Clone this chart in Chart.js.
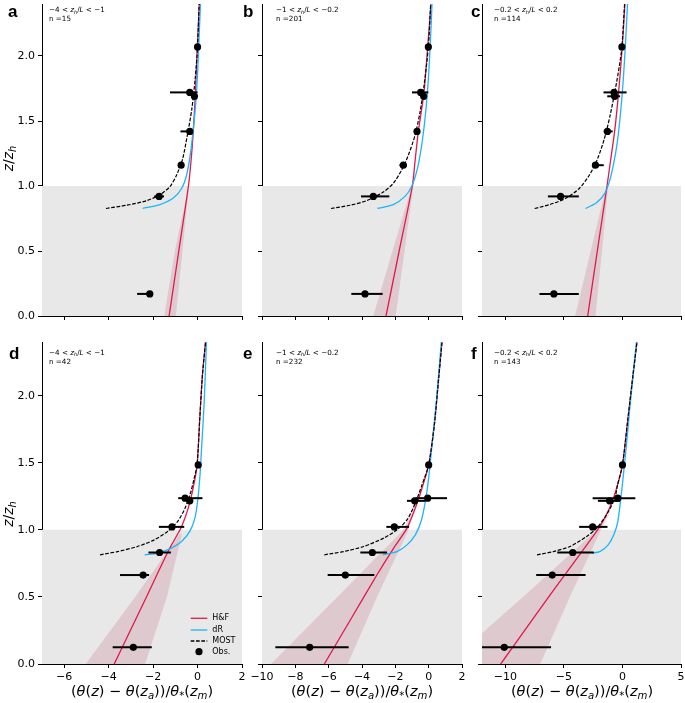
<!DOCTYPE html>
<html><head><meta charset="utf-8">
<script src="https://cdn.jsdelivr.net/npm/chart.js@4.4.1/dist/chart.umd.min.js"></script>
<style>
html,body{margin:0;padding:0;background:#fff;width:685px;height:703px;overflow:hidden;position:relative}
canvas{position:absolute}
</style></head><body>
<canvas id="pa"></canvas><canvas id="pb"></canvas><canvas id="pc"></canvas>
<canvas id="pd"></canvas><canvas id="pe"></canvas><canvas id="pf"></canvas>
<script>
// ---------- labels / ticks ----------
const panelLetters = ['a','b','c','d','e','f'];
const zhLLower = ['−4','−1','−0.2','−4','−1','−0.2'];
const zhLUpper = ['−1','−0.2','0.2','−1','−0.2','0.2'];
const nObs = [15,201,114,42,232,143];
const yTickValues = [0,0.5,1.0,1.5,2.0];
const xTicksAD = [-6,-4,-2,0,2];
const xTicksBE = [-10,-8,-6,-4,-2,0,2];
const xTicksCF = [-10,-5,0,5];
const canopyTop = 1.0;
const legendLabels = ['H&F','dR','MOST','Obs.'];

// ---------- panel a ----------
const obsZ_a = [2.07,1.72,1.69,1.42,1.16,0.92,0.17];
const obsX_a = [0.0,-0.35,-0.14,-0.35,-0.74,-1.73,-2.15];
const obsLo_a = [-0.08,-1.24,-0.22,-0.77,-0.82,-1.95,-2.72];
const obsHi_a = [0.05,0.0,-0.06,-0.26,-0.66,-1.51,-2.0];
const hfZ_a = [0,0.5,1.0,1.2,1.4,1.7,2.07,2.4];
const hfX_a = [-1.28,-0.845,-0.41,-0.29,-0.2,-0.1,-0.01,0.08];
const bandZ_a = [0,0.5,0.95];
const bandLo_a = [-1.5,-1.02,-0.46];
const bandHi_a = [-0.98,-0.68,-0.42];
const drZ_a = [0.827,0.857,0.907,0.983,1.085,1.262,1.44,1.64,1.9,2.15,2.4];
const drX_a = [-2.47,-1.69,-1.09,-0.71,-0.49,-0.31,-0.19,-0.08,0.01,0.07,0.13];
const mostZ_a = [0.827,0.852,0.887,0.933,0.996,1.085,1.21,1.39,1.59,1.82,2.07,2.4];
const mostX_a = [-4.12,-3.19,-2.29,-1.69,-1.24,-0.94,-0.67,-0.46,-0.26,-0.11,0.0,0.07];

// ---------- panel b ----------
const obsZ_b = [2.07,1.72,1.69,1.42,1.16,0.92,0.17];
const obsX_b = [-0.02,-0.48,-0.3,-0.7,-1.52,-3.32,-3.82];
const obsLo_b = [-0.1,-1.0,-0.4,-0.8,-1.75,-4.06,-4.64];
const obsHi_b = [0.05,-0.02,-0.2,-0.6,-1.3,-2.36,-2.76];
const hfZ_b = [0,0.5,1.0,1.2,1.42,1.72,2.07,2.4];
const hfX_b = [-2.56,-1.77,-0.98,-0.81,-0.62,-0.28,-0.06,0.14];
const bandZ_b = [0,0.5,1.02];
const bandLo_b = [-3.32,-2.17,-0.96];
const bandHi_b = [-1.98,-1.45,-0.9];
const drZ_b = [0.827,0.857,0.92,0.996,1.11,1.313,1.567,1.82,2.1,2.4];
const drX_b = [-3.08,-2.12,-1.42,-1.02,-0.72,-0.42,-0.18,-0.02,0.1,0.2];
const mostZ_b = [0.827,0.852,0.887,0.953,1.021,1.123,1.237,1.389,1.567,1.77,2.066,2.4];
const mostX_b = [-5.86,-4.72,-3.72,-2.72,-2.12,-1.62,-1.22,-0.82,-0.52,-0.28,-0.02,0.12];

// ---------- panel c ----------
const obsZ_c = [2.07,1.72,1.69,1.42,1.16,0.92,0.17];
const obsX_c = [-0.05,-0.72,-0.67,-1.29,-2.31,-5.29,-5.86];
const obsLo_c = [-0.15,-1.62,-1.3,-1.6,-2.6,-6.37,-7.09];
const obsHi_c = [0.05,0.35,-0.2,-0.84,-1.6,-3.73,-3.73];
const hfZ_c = [0,0.5,1.0,1.2,1.42,1.72,2.07,2.4];
const hfX_c = [-2.97,-2.15,-1.32,-1.01,-0.67,-0.33,-0.02,0.21];
const bandZ_c = [0,0.5,0.99];
const bandLo_c = [-4.04,-2.71,-1.4];
const bandHi_c = [-2.31,-1.75,-1.23];
const drZ_c = [0.827,0.869,0.938,1.034,1.161,1.338,1.567,1.82,2.1,2.4];
const drX_c = [-3.16,-2.25,-1.55,-1.12,-0.78,-0.44,-0.16,0.07,0.26,0.43];
const mostZ_c = [0.827,0.857,0.907,0.983,1.085,1.211,1.363,1.541,1.744,1.922,2.066,2.4];
const mostX_c = [-7.5,-6.22,-4.8,-3.67,-2.82,-2.12,-1.55,-1.06,-0.61,-0.27,-0.05,0.18];

// ---------- panel d ----------
const obsZ_d = [1.484,1.236,1.216,1.022,0.831,0.663,0.124];
const obsX_d = [0.03,-0.56,-0.35,-1.15,-1.71,-2.45,-2.89];
const obsLo_d = [-0.05,-0.87,-0.5,-1.74,-2.21,-3.49,-3.82];
const obsHi_d = [0.08,0.22,-0.2,-0.6,-1.2,-2.18,-2.06];
const hfZ_d = [0,0.5,0.864,1.013,1.162,1.31,1.484,1.832,2.154,2.4];
const hfX_d = [-3.75,-2.3,-1.25,-0.75,-0.42,-0.2,-0.02,0.1,0.22,0.36];
const bandZ_d = [0,0.5,0.97];
const bandLo_d = [-5.03,-2.81,-0.8];
const bandHi_d = [-2.36,-1.38,-0.7];
const drZ_d = [0.814,0.827,0.864,0.913,0.988,1.087,1.211,1.385,1.633,1.955,2.4];
const drX_d = [-2.38,-1.78,-1.18,-0.72,-0.35,-0.12,0.0,0.1,0.19,0.3,0.4];
const mostZ_d = [0.814,0.838,0.876,0.925,0.988,1.062,1.162,1.285,1.385,1.484,1.832,2.154,2.4];
const mostX_d = [-4.39,-3.6,-2.7,-1.95,-1.35,-0.9,-0.56,-0.3,-0.15,-0.02,0.1,0.22,0.36];

// ---------- panel e ----------
const obsZ_e = [1.484,1.236,1.216,1.022,0.831,0.663,0.124];
const obsX_e = [0.0,-0.06,-0.84,-2.06,-3.38,-5.0,-7.14];
const obsLo_e = [-0.1,-0.8,-1.3,-2.54,-4.1,-6.06,-9.2];
const obsHi_e = [0.1,1.1,-0.2,-1.18,-2.5,-3.26,-4.8];
const hfZ_e = [0,0.343,0.665,0.864,1.013,1.162,1.31,1.484,1.782,2.13,2.4];
const hfX_e = [-6.26,-4.63,-3.1,-2.1,-1.3,-0.8,-0.4,0.0,0.34,0.6,0.8];
const bandZ_e = [0,0.5,1.0,1.2];
const bandLo_e = [-9.46,-5.48,-1.5,-0.85];
const bandHi_e = [-4.86,-3.1,-1.2,-0.75];
const drZ_e = [0.814,0.838,0.888,0.963,1.062,1.211,1.385,1.633,1.955,2.4];
const drX_e = [-2.74,-1.9,-1.3,-0.8,-0.46,-0.2,0.0,0.2,0.46,0.76];
const mostZ_e = [0.814,0.838,0.876,0.938,1.0,1.074,1.199,1.335,1.484,1.782,2.13,2.4];
const mostX_e = [-6.26,-5.1,-3.9,-2.7,-1.9,-1.3,-0.8,-0.4,0.0,0.34,0.6,0.8];

// ---------- panel f ----------
const obsZ_f = [1.484,1.236,1.216,1.022,0.831,0.663,0.124];
const obsX_f = [0.0,-0.4,-1.1,-2.55,-4.25,-6.0,-10.1];
const obsLo_f = [-0.15,-2.55,-2.1,-3.7,-5.57,-7.37,-12.0];
const obsHi_f = [0.15,1.1,-0.23,-1.28,-2.45,-3.15,-6.1];
const hfZ_f = [0,0.5,0.99,1.1,1.2,1.335,1.484,1.832,2.154,2.4];
const hfX_f = [-10.4,-6.3,-2.2,-1.45,-0.92,-0.42,0.0,0.47,0.9,1.24];
const bandZ_f = [0,0.5,0.99,1.12];
const bandLo_f = [-14.97,-8.5,-2.3,-1.2];
const bandHi_f = [-7.03,-4.5,-1.9,-1.1];
const drZ_f = [0.827,0.838,0.888,0.963,1.062,1.211,1.385,1.633,1.955,2.4];
const drX_f = [-2.64,-1.93,-1.22,-0.74,-0.4,-0.17,0.05,0.34,0.68,1.19];
const mostZ_f = [0.814,0.838,0.876,0.95,1.013,1.112,1.236,1.335,1.484,1.832,2.154,2.4];
const mostX_f = [-7.3,-5.9,-4.48,-3.06,-2.2,-1.36,-0.65,-0.42,0.0,0.47,0.9,1.24];

// ---------- styles ----------
const C_GRAY = '#e8e8e8';
const C_BAND = 'rgba(200,130,150,0.30)';
const C_HF = '#e0194a';
const C_DR = '#1db4fb';
const C_TXT = '#000';
const FONT = "'DejaVu Sans'";

const panels = [
  {id:'pa', k:0, left:0,   top:0,   w:250, h:330, yW:42, xH:14, padT:0, padR:8, xMin:-7,  xMax:2, xTicks:xTicksAD, xLab:false, yLab:true,
   obs:[obsZ_a,obsX_a,obsLo_a,obsHi_a], hf:[hfZ_a,hfX_a], band:[bandZ_a,bandLo_a,bandHi_a], dr:[drZ_a,drX_a], most:[mostZ_a,mostX_a],
   letterPos:[8,17.3], annotPos:[49,12.3,21], yTitle:[13,158.5], xTitle:null, legend:false},
  {id:'pb', k:1, left:240, top:0,   w:230, h:330, yW:22, xH:14, padT:0, padR:8, xMin:-10, xMax:2, xTicks:xTicksBE, xLab:false, yLab:false,
   obs:[obsZ_b,obsX_b,obsLo_b,obsHi_b], hf:[hfZ_b,hfX_b], band:[bandZ_b,bandLo_b,bandHi_b], dr:[drZ_b,drX_b], most:[mostZ_b,mostX_b],
   letterPos:[243,17.3], annotPos:[276,12.3,21], yTitle:null, xTitle:null, legend:false},
  {id:'pc', k:2, left:462, top:0,   w:223, h:330, yW:20, xH:14, padT:0, padR:3, xMin:-12, xMax:5, xTicks:xTicksCF, xLab:false, yLab:false,
   obs:[obsZ_c,obsX_c,obsLo_c,obsHi_c], hf:[hfZ_c,hfX_c], band:[bandZ_c,bandLo_c,bandHi_c], dr:[drZ_c,drX_c], most:[mostZ_c,mostX_c],
   letterPos:[471,17.3], annotPos:[494,12.3,21], yTitle:null, xTitle:null, legend:false},
  {id:'pd', k:3, left:0,   top:335, w:250, h:368, yW:42, xH:39, padT:7, padR:8, xMin:-7,  xMax:2, xTicks:xTicksAD, xLab:true, yLab:true,
   obs:[obsZ_d,obsX_d,obsLo_d,obsHi_d], hf:[hfZ_d,hfX_d], band:[bandZ_d,bandLo_d,bandHi_d], dr:[drZ_d,drX_d], most:[mostZ_d,mostX_d],
   letterPos:[9,359], annotPos:[49,355,363.5], yTitle:[13,514], xTitle:[142,696], legend:true},
  {id:'pe', k:4, left:240, top:335, w:230, h:368, yW:22, xH:39, padT:7, padR:8, xMin:-10, xMax:2, xTicks:xTicksBE, xLab:true, yLab:false,
   obs:[obsZ_e,obsX_e,obsLo_e,obsHi_e], hf:[hfZ_e,hfX_e], band:[bandZ_e,bandLo_e,bandHi_e], dr:[drZ_e,drX_e], most:[mostZ_e,mostX_e],
   letterPos:[243,359], annotPos:[276,355,363.5], yTitle:null, xTitle:[362,696], legend:false},
  {id:'pf', k:5, left:462, top:335, w:223, h:368, yW:20, xH:39, padT:7, padR:3, xMin:-12, xMax:5, xTicks:xTicksCF, xLab:true, yLab:false,
   obs:[obsZ_f,obsX_f,obsLo_f,obsHi_f], hf:[hfZ_f,hfX_f], band:[bandZ_f,bandLo_f,bandHi_f], dr:[drZ_f,drX_f], most:[mostZ_f,mostX_f],
   letterPos:[471,359], annotPos:[494,355,363.5], yTitle:null, xTitle:[582,696], legend:false}
];

function pts(zs, xs){ return zs.map((z,i)=>({x:xs[i], y:z})); }
function fmtX(v){ return (v<0?'−':'') + Math.abs(v).toString(); }

// rich text (italic / subscript segments)
function segFont(s, size){
  const sz = s.sub ? size*0.7 : size;
  return (s.it ? 'italic ' : '') + (s.b ? 'bold ' : '') + sz + 'px ' + (s.fam || FONT);
}
function richWidth(ctx, segs, size){
  let w = 0;
  for (const s of segs){ ctx.font = segFont(s,size); w += ctx.measureText(s.t).width; }
  return w;
}
function drawRich(ctx, segs, x, y, size, align){
  const w = richWidth(ctx, segs, size);
  let cx = align === 'center' ? x - w/2 : x;
  ctx.textAlign = 'left'; ctx.textBaseline = 'alphabetic';
  for (const s of segs){
    ctx.font = segFont(s,size);
    ctx.fillText(s.t, cx, y + (s.sub ? size*0.2 : 0));
    cx += ctx.measureText(s.t).width;
  }
}
const xTitleSegs = [{t:'('},{t:'θ',it:1},{t:'('},{t:'z',it:1},{t:') − '},{t:'θ',it:1},{t:'('},{t:'z',it:1},{t:'a',it:1,sub:1},
  {t:'))/'},{t:'θ',it:1},{t:'*',sub:1},{t:'('},{t:'z',it:1},{t:'m',it:1,sub:1},{t:')'}];
const yTitleSegs = [{t:'z',it:1},{t:'/'},{t:'z',it:1},{t:'h',it:1,sub:1}];

function decor(p){
  return {
    id:'decor'+p.id,
    afterDraw(chart){
      const ctx = chart.ctx;
      ctx.save();
      ctx.translate(-p.left, -p.top);
      ctx.fillStyle = C_TXT;
      // panel letter
      ctx.font = "bold 17px 'Liberation Sans'";
      ctx.textAlign = 'left'; ctx.textBaseline = 'alphabetic';
      ctx.fillText(panelLetters[p.k], p.letterPos[0], p.letterPos[1]);
      // annotation
      const a = [{t:zhLLower[p.k]+' < '},{t:'z',it:1},{t:'h',it:1,sub:1},{t:'/'},{t:'L',it:1},{t:' < '+zhLUpper[p.k]}];
      drawRich(ctx, a, p.annotPos[0], p.annotPos[1], 7.2, 'left');
      ctx.font = '7.2px ' + FONT;
      ctx.fillText('n =' + nObs[p.k], p.annotPos[0], p.annotPos[2]);
      // y title
      if (p.yTitle){
        ctx.save();
        ctx.translate(p.yTitle[0], p.yTitle[1]);
        ctx.rotate(-Math.PI/2);
        drawRich(ctx, yTitleSegs, 0, 0, 14, 'center');
        ctx.restore();
      }
      // x title
      if (p.xTitle){ drawRich(ctx, xTitleSegs, p.xTitle[0], p.xTitle[1], 14.5, 'center'); }
      // legend
      if (p.legend){
        const lx0 = 190.7, lx1 = 207.3, tx = 212.3, rows = [618.3, 630, 641, 651.7];
        ctx.lineWidth = 1.3;
        const styles = [[C_HF,[]],[C_DR,[]],['#000',[3.7,1.6]]];
        for (let i=0;i<3;i++){
          ctx.strokeStyle = styles[i][0]; ctx.setLineDash(styles[i][1]);
          ctx.beginPath(); ctx.moveTo(lx0, rows[i]); ctx.lineTo(lx1, rows[i]); ctx.stroke();
        }
        ctx.setLineDash([]);
        ctx.fillStyle = '#000';
        ctx.beginPath(); ctx.arc((lx0+lx1)/2, rows[3], 3.6, 0, Math.PI*2); ctx.fill();
        ctx.font = '8px ' + FONT; ctx.textBaseline = 'middle';
        for (let i=0;i<4;i++) ctx.fillText(legendLabels[i], tx, rows[i]);
      }
      ctx.restore();
    }
  };
}

function axisCommon(){
  return {
    grid:{display:true, drawOnChartArea:false, drawTicks:true, tickLength:4, tickWidth:1, tickColor:'#000', color:'#000'},
    border:{display:true, color:'#000', width:1}
  };
}

function buildChart(p){
  const cv = document.getElementById(p.id);
  cv.width = p.w; cv.height = p.h;
  cv.style.left = p.left+'px'; cv.style.top = p.top+'px';
  cv.style.width = p.w+'px'; cv.style.height = p.h+'px';
  const ds = [];
  // canopy shading
  ds.push({data:[{x:p.xMin,y:0},{x:p.xMax,y:0},{x:p.xMax,y:canopyTop},{x:p.xMin,y:canopyTop}],
    showLine:true, fill:'shape', backgroundColor:C_GRAY, borderColor:'rgba(0,0,0,0)', borderWidth:0, pointRadius:0, tension:0, order:100});
  // H&F uncertainty band
  const [bz, blo, bhi] = p.band;
  const bandPts = pts(bz, blo).concat(pts(bz, bhi).reverse());
  ds.push({data:bandPts, showLine:true, fill:'shape', backgroundColor:C_BAND, borderColor:'rgba(0,0,0,0)', borderWidth:0, pointRadius:0, tension:0, order:90});
  // model curves
  ds.push({data:pts(p.hf[0],p.hf[1]), showLine:true, borderColor:C_HF, borderWidth:1.3, pointRadius:0, tension:0.25, fill:false, order:50});
  ds.push({data:pts(p.dr[0],p.dr[1]), showLine:true, borderColor:C_DR, borderWidth:1.3, pointRadius:0, tension:0.25, fill:false, order:45});
  ds.push({data:pts(p.most[0],p.most[1]), showLine:true, borderColor:'#000', borderWidth:1.2, borderDash:[3.7,1.6], pointRadius:0, tension:0.25, fill:false, order:40});
  // error bars
  const [oz, ox, olo, ohi] = p.obs;
  oz.forEach((z,i)=>{
    ds.push({data:[{x:olo[i],y:z},{x:ohi[i],y:z}], showLine:true, borderColor:'#000', borderWidth:2, pointRadius:0, tension:0, fill:false, order:20});
  });
  // observations
  ds.push({data:pts(oz, ox), showLine:false, pointRadius:3.6, pointBackgroundColor:'#000', pointBorderWidth:0, backgroundColor:'#000', borderColor:'#000', order:10});

  const cX = axisCommon(), cY = axisCommon();
  new Chart(cv, {
    type:'scatter',
    data:{datasets:ds},
    options:{
      responsive:false, animation:false, devicePixelRatio:1, events:[],
      layout:{padding:{top:p.padT, right:p.padR, left:0, bottom:0}},
      plugins:{legend:{display:false}, tooltip:{enabled:false}},
      scales:{
        x:{type:'linear', position:'bottom', min:p.xMin, max:p.xMax,
           afterBuildTicks:(s)=>{ s.ticks = p.xTicks.map(v=>({value:v})); },
           afterFit:(s)=>{ s.height = p.xH; s.paddingLeft = 0; s.paddingRight = 0; },
           ticks:{autoSkip:false, maxRotation:0, minRotation:0, padding:3, color:C_TXT,
                  font:{family:FONT, size:11}, callback:(v)=> p.xLab ? fmtX(v) : ''},
           grid:cX.grid, border:cX.border},
        y:{type:'linear', position:'left', min:0, max:2.4,
           afterBuildTicks:(s)=>{ s.ticks = yTickValues.map(v=>({value:v})); },
           afterFit:(s)=>{ s.width = p.yW; s.paddingTop = 0; s.paddingBottom = 0; },
           ticks:{autoSkip:false, padding:3, color:C_TXT, font:{family:FONT, size:11},
                  callback:(v)=> p.yLab ? Number(v).toFixed(1) : ''},
           grid:cY.grid, border:cY.border}
      }
    },
    plugins:[decor(p)]
  });
}
panels.forEach(buildChart);
</script>
</body></html>
